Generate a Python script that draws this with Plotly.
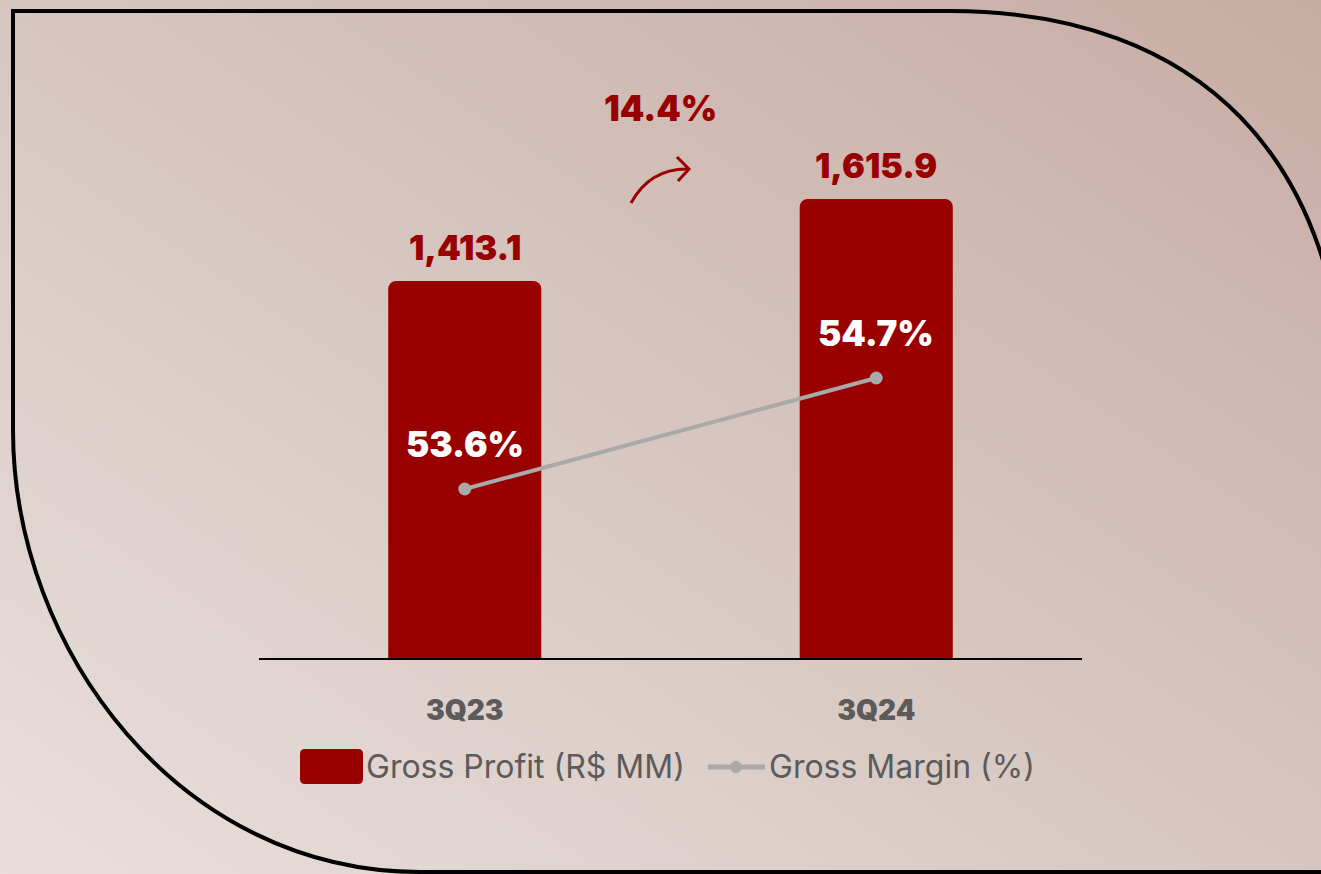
import base64
import plotly.graph_objects as go

# ---- data ----
categories = ["3Q23", "3Q24"]
gross_profit = [1413.1, 1615.9]   # R$ MM
gross_margin = [53.6, 54.7]       # %
series_names = ["Gross Profit (R$ MM)", "Gross Margin (%)"]

W, H = 1321, 874
RED = "#990000"
GRAY_LINE = "#a9a9a9"
TXT_GRAY = "#5b5b5b"
FONT = "Inter"


def px(x):
    return x / W


def py(y):
    return 1 - y / H


def pt(x, y):
    return f"{px(x):.5f},{py(y):.5f}"


# background gradient (svg data uri)
svg = (
    f'<svg xmlns="http://www.w3.org/2000/svg" width="{W}" height="{H}" preserveAspectRatio="none">'
    '<defs><linearGradient id="g" x1="0" y1="1" x2="1" y2="0">'
    '<stop offset="0" stop-color="#e8dfdc"/>'
    '<stop offset="0.5" stop-color="#d7c6c0"/>'
    '<stop offset="1" stop-color="#c7aca3"/>'
    '</linearGradient></defs>'
    f'<rect width="{W}" height="{H}" fill="url(#g)"/></svg>'
)
bg_uri = "data:image/svg+xml;base64," + base64.b64encode(svg.encode()).decode()

fig = go.Figure()

fig.add_trace(go.Bar(
    x=categories, y=gross_profit, name=series_names[0],
    marker=dict(color=RED, cornerradius=8, line=dict(width=0)),
    width=0.372, showlegend=False, hoverinfo="x+y",
))

fig.add_trace(go.Scatter(
    x=categories, y=gross_margin, name=series_names[1], yaxis="y2",
    mode="lines+markers",
    line=dict(color=GRAY_LINE, width=4),
    marker=dict(color=GRAY_LINE, size=13),
    showlegend=False,
))

annotations = []
# value labels above bars
for c, v in zip(categories, gross_profit):
    annotations.append(dict(
        x=c, y=v, xref="x", yref="y", text=f"{v:,.1f}", showarrow=False,
        yanchor="bottom", yshift=11,
        font=dict(family=FONT, size=34, color=RED, weight=900),
    ))
# margin labels
for c, m in zip(categories, gross_margin):
    annotations.append(dict(
        x=c, y=m, xref="x", yref="y2", text=f"{m:.1f}%", showarrow=False,
        yanchor="middle", yshift=45,
        font=dict(family=FONT, size=35, color="white", weight=900),
    ))
# growth label
growth = (gross_profit[1] / gross_profit[0] - 1) * 100
annotations.append(dict(
    x=px(660), y=py(108), xref="paper", yref="paper", text=f"{growth:.1f}%",
    showarrow=False, xanchor="center", yanchor="middle",
    font=dict(family=FONT, size=35, color=RED, weight=900),
))
# legend texts
annotations.append(dict(
    x=px(364), y=py(766), xref="paper", yref="paper", text=series_names[0],
    showarrow=False, xanchor="left", yanchor="middle",
    font=dict(family=FONT, size=32, color=TXT_GRAY, weight=400),
))
annotations.append(dict(
    x=px(767), y=py(766), xref="paper", yref="paper", text=series_names[1],
    showarrow=False, xanchor="left", yanchor="middle",
    font=dict(family=FONT, size=32, color=TXT_GRAY, weight=400),
))

shapes = [
    # frame
    dict(type="path", xref="paper", yref="paper",
         path=(f"M{pt(1345, 420)} C{pt(1345, 160)} {pt(1200, 11)} {pt(950, 11)} "
               f"L{pt(13, 11)} L{pt(13, 430)} C{pt(13, 650)} {pt(180, 872)} {pt(420, 872)} "
               f"L{pt(1340, 872)}"),
         line=dict(color="black", width=4), layer="below"),
    # curved arrow
    dict(type="path", xref="paper", yref="paper",
         path=f"M{pt(631, 203)} Q{pt(650, 168)} {pt(689, 169)}",
         line=dict(color=RED, width=3)),
    dict(type="path", xref="paper", yref="paper",
         path=f"M{pt(677, 157)} L{pt(689, 169)} L{pt(678, 181)}",
         line=dict(color=RED, width=3)),
    # legend swatch: bar
    dict(type="path", xref="paper", yref="paper",
         path=(f"M{pt(305, 749)} L{pt(358, 749)} Q{pt(363, 749)} {pt(363, 754)} "
               f"L{pt(363, 779)} Q{pt(363, 784)} {pt(358, 784)} L{pt(305, 784)} "
               f"Q{pt(300, 784)} {pt(300, 779)} L{pt(300, 754)} Q{pt(300, 749)} {pt(305, 749)} Z"),
         fillcolor=RED, line=dict(width=0)),
    # legend swatch: line
    dict(type="line", xref="paper", yref="paper",
         x0=px(708), x1=px(765), y0=py(767), y1=py(767),
         line=dict(color=GRAY_LINE, width=5)),
    dict(type="circle", xref="paper", yref="paper",
         x0=px(730), x1=px(742), y0=py(761), y1=py(773),
         fillcolor=GRAY_LINE, line=dict(width=0)),
]

fig.update_layout(
    width=W, height=H,
    margin=dict(l=0, r=0, t=0, b=0),
    paper_bgcolor="#d7c6c0",
    plot_bgcolor="rgba(0,0,0,0)",
    images=[dict(source=bg_uri, xref="paper", yref="paper", x=0, y=1,
                 sizex=1, sizey=1, xanchor="left", yanchor="top",
                 sizing="stretch", layer="below")],
    xaxis=dict(domain=[px(259), px(1082)], range=[-0.5, 1.5],
               showline=True, linecolor="black", linewidth=2,
               showgrid=False, zeroline=False, ticks="",
               ticklabelstandoff=26,
               tickfont=dict(family=FONT, size=28, color=TXT_GRAY, weight=900)),
    yaxis=dict(domain=[py(658), py(100)], range=[480.7, 1860.7],
               visible=False, showgrid=False, zeroline=False),
    yaxis2=dict(domain=[py(658), py(100)], range=[51.925, 57.455],
                overlaying="y", visible=False, showgrid=False, zeroline=False),
    annotations=annotations,
    shapes=shapes,
    showlegend=False,
    bargap=0.6,
)

fig.write_html(
    "out.html",
    config={"displayModeBar": False},
    post_script="document.body.style.margin='0';document.body.style.overflow='hidden';",
)
